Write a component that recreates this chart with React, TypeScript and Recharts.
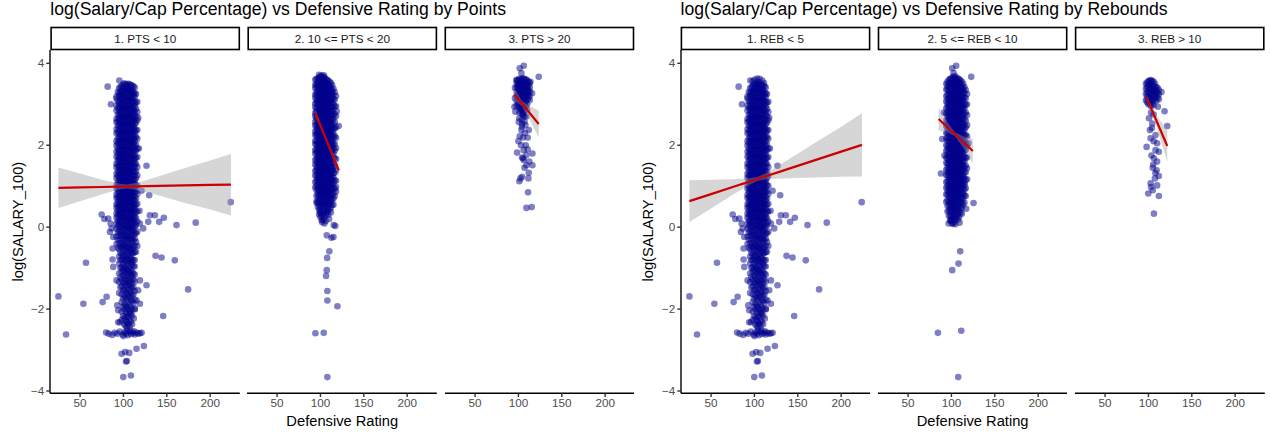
import React from 'react';
import { ComposedChart, Scatter, Line, Area, XAxis, YAxis } from 'recharts';

type Pt = { x: number; y: number };

// ---------- axis setup ----------
const X_TICKS = [50, 100, 150, 200];
const Y_TICKS = [-4, -2, 0, 2, 4];
const X_DOMAIN: [number, number] = [15.3, 234.2];
const Y_DOMAIN: [number, number] = [-4.056, 4.325];

// ---------- PTS < 10 ----------
const PTS1_COL_X = [92, 95, 98, 101, 104, 107, 110, 113, 116];
const PTS1_COL_Y: number[][] = [
  [3.14, 2.97, 2.85, 2.64, 2.56, 2.39, 2.29, 2.1, 1.99, 1.84, 1.72, 1.55, 1.46, 1.3, 1.2, 1.03, 0.94, 0.79, 0.71, 0.56, 0.47, 0.33, 0.23, 0.08, -0.04, -0.23, -0.41],
  [3.39, 3.26, 3.19, 3.05, 2.96, 2.86, 2.77, 2.67, 2.58, 2.48, 2.39, 2.29, 2.2, 2.09, 2.02, 1.89, 1.83, 1.7, 1.64, 1.51, 1.44, 1.33, 1.24, 1.14, 1.05, 0.94, 0.87, 0.75, 0.68, 0.56, 0.5, 0.37, 0.3, 0.17, 0.07, -0.09, -0.21, -0.38, -0.54, -0.72, -0.89, -1.13, -1.34, -1.61],
  [3.45, 3.32, 3.23, 3.12, 3.02, 2.91, 2.84, 2.71, 2.64, 2.52, 2.45, 2.33, 2.26, 2.13, 2.06, 1.95, 1.87, 1.76, 1.68, 1.57, 1.49, 1.38, 1.3, 1.19, 1.11, 0.99, 0.92, 0.8, 0.73, 0.61, 0.53, 0.42, 0.34, 0.23, 0.14, 0.01, -0.11, -0.23, -0.39, -0.49, -0.66, -0.79, -0.97, -1.09, -1.28, -1.44, -1.64, -1.83, -2.06, -2.27],
  [3.51, 3.4, 3.31, 3.19, 3.11, 2.99, 2.91, 2.79, 2.7, 2.59, 2.51, 2.39, 2.31, 2.2, 2.11, 1.99, 1.92, 1.8, 1.73, 1.61, 1.53, 1.42, 1.34, 1.23, 1.15, 1.04, 0.97, 0.85, 0.78, 0.66, 0.59, 0.47, 0.4, 0.27, 0.2, 0.07, -0.02, -0.16, -0.27, -0.42, -0.52, -0.68, -0.81, -0.96, -1.08, -1.23, -1.37, -1.53, -1.68, -1.87, -2.0, -2.21, -2.37],
  [3.47, 3.36, 3.27, 3.15, 3.06, 2.94, 2.86, 2.74, 2.66, 2.54, 2.46, 2.34, 2.27, 2.15, 2.07, 1.95, 1.87, 1.76, 1.68, 1.56, 1.48, 1.37, 1.29, 1.18, 1.1, 0.99, 0.91, 0.8, 0.72, 0.61, 0.54, 0.42, 0.35, 0.22, 0.14, 0.02, -0.08, -0.22, -0.33, -0.48, -0.59, -0.75, -0.87, -1.03, -1.15, -1.31, -1.44, -1.61, -1.76, -1.95, -2.11, -2.32, -2.46],
  [3.49, 3.38, 3.3, 3.17, 3.09, 2.97, 2.89, 2.77, 2.69, 2.57, 2.49, 2.37, 2.29, 2.17, 2.09, 1.98, 1.9, 1.78, 1.7, 1.59, 1.51, 1.39, 1.32, 1.2, 1.13, 1.01, 0.94, 0.82, 0.75, 0.63, 0.56, 0.44, 0.37, 0.25, 0.17, 0.05, -0.04, -0.18, -0.29, -0.45, -0.56, -0.71, -0.84, -1.0, -1.12, -1.28, -1.41, -1.57, -1.71, -1.9, -2.06, -2.27, -2.42],
  [3.46, 3.34, 3.25, 3.13, 3.04, 2.92, 2.84, 2.71, 2.63, 2.51, 2.43, 2.31, 2.23, 2.11, 2.04, 1.92, 1.84, 1.72, 1.65, 1.53, 1.45, 1.34, 1.26, 1.15, 1.07, 0.96, 0.88, 0.77, 0.69, 0.58, 0.5, 0.39, 0.31, 0.19, 0.11, -0.02, -0.12, -0.27, -0.38, -0.53, -0.65, -0.81, -0.92, -1.09, -1.21, -1.37, -1.5, -1.67, -1.81, -2.01, -2.16, -2.37],
  [3.41, 3.27, 3.18, 3.05, 2.95, 2.83, 2.74, 2.62, 2.52, 2.4, 2.31, 2.19, 2.1, 1.98, 1.89, 1.77, 1.68, 1.56, 1.48, 1.35, 1.27, 1.15, 1.07, 0.94, 0.86, 0.74, 0.65, 0.53, 0.45, 0.32, 0.23, 0.1, 0.01, -0.15, -0.28, -0.46, -0.61, -0.8, -0.96, -1.16, -1.33, -1.56, -1.77, -2.01],
  [3.06, 2.81, 2.61, 2.37, 2.16, 1.92, 1.71, 1.47, 1.26, 1.01, 0.81, 0.57, 0.38, 0.14, -0.11, -0.46],
];
const PTS1_COL2_X = [93.5, 96.5, 99.5, 102.5, 105.5, 108.5, 111.5, 114.5];
const PTS1_COL2_Y: number[][] = [
  [3.3, 3.08, 2.91, 2.74, 2.6, 2.47, 2.33, 2.17, 2.05, 1.91, 1.77, 1.64, 1.51, 1.37, 1.25, 1.1, 0.98, 0.86, 0.74, 0.62, 0.51, 0.4, 0.28, 0.15, 0.02, -0.13, -0.31, -0.5],
  [3.42, 3.31, 3.22, 3.1, 3.0, 2.9, 2.81, 2.71, 2.62, 2.53, 2.43, 2.34, 2.24, 2.15, 2.06, 1.96, 1.86, 1.77, 1.67, 1.58, 1.48, 1.39, 1.29, 1.2, 1.1, 1.0, 0.9, 0.81, 0.71, 0.62, 0.52, 0.43, 0.33, 0.24, 0.12, 0.0, -0.15, -0.3, -0.47, -0.63, -0.8, -1.0, -1.22, -1.47],
  [3.48, 3.37, 3.27, 3.16, 3.07, 2.96, 2.87, 2.76, 2.67, 2.56, 2.48, 2.37, 2.28, 2.17, 2.08, 1.98, 1.89, 1.78, 1.7, 1.59, 1.5, 1.4, 1.31, 1.21, 1.12, 1.02, 0.93, 0.83, 0.74, 0.64, 0.55, 0.45, 0.36, 0.25, 0.16, 0.04, -0.07, -0.2, -0.33, -0.46, -0.6, -0.74, -0.89, -1.03, -1.18, -1.35, -1.53, -1.74, -1.95, -2.17],
  [3.49, 3.38, 3.29, 3.18, 3.08, 2.97, 2.88, 2.77, 2.68, 2.57, 2.48, 2.37, 2.29, 2.18, 2.09, 1.98, 1.9, 1.79, 1.7, 1.6, 1.51, 1.41, 1.32, 1.22, 1.13, 1.03, 0.94, 0.84, 0.75, 0.65, 0.56, 0.46, 0.37, 0.26, 0.17, 0.05, -0.05, -0.19, -0.31, -0.45, -0.57, -0.71, -0.84, -0.99, -1.12, -1.27, -1.41, -1.57, -1.72, -1.91, -2.06, -2.27, -2.41],
  [3.5, 3.4, 3.31, 3.2, 3.11, 3.0, 2.91, 2.8, 2.71, 2.6, 2.51, 2.4, 2.31, 2.21, 2.12, 2.01, 1.92, 1.82, 1.73, 1.62, 1.54, 1.43, 1.35, 1.24, 1.16, 1.05, 0.97, 0.86, 0.78, 0.67, 0.59, 0.48, 0.39, 0.28, 0.19, 0.08, -0.02, -0.14, -0.26, -0.4, -0.52, -0.66, -0.79, -0.94, -1.07, -1.22, -1.36, -1.51, -1.66, -1.83, -2.0, -2.19, -2.36],
  [3.47, 3.36, 3.27, 3.15, 3.06, 2.95, 2.86, 2.74, 2.66, 2.54, 2.46, 2.34, 2.26, 2.14, 2.06, 1.95, 1.87, 1.75, 1.68, 1.56, 1.48, 1.37, 1.29, 1.18, 1.1, 0.99, 0.91, 0.8, 0.72, 0.61, 0.53, 0.42, 0.34, 0.22, 0.14, 0.02, -0.08, -0.22, -0.34, -0.49, -0.61, -0.76, -0.88, -1.04, -1.17, -1.32, -1.46, -1.62, -1.77, -1.96, -2.12, -2.31],
  [3.44, 3.3, 3.21, 3.09, 2.99, 2.87, 2.78, 2.66, 2.57, 2.45, 2.37, 2.25, 2.16, 2.05, 1.96, 1.84, 1.76, 1.64, 1.56, 1.44, 1.36, 1.25, 1.17, 1.05, 0.97, 0.86, 0.77, 0.66, 0.57, 0.45, 0.37, 0.25, 0.16, 0.04, -0.07, -0.2, -0.33, -0.49, -0.63, -0.8, -0.95, -1.13, -1.28, -1.47, -1.64, -1.86],
  [3.25, 3.04, 2.89, 2.7, 2.55, 2.36, 2.21, 2.02, 1.87, 1.69, 1.54, 1.36, 1.2, 1.02, 0.87, 0.7, 0.55, 0.38, 0.22, 0.05, -0.15, -0.36, -0.6],
];
const PTS1_OTHER: number[][] = [
  [81.8, 3.43], [95.2, 3.58], [85.6, 3.0], [92, 3.19], [126.6, 1.5], [117.8, 1.92], [117, 2.67], [129.7, 0.78],
  [120.9, 0.89], [223.7, 0.61], [74.9, 0.31], [78, 0.2], [130.5, 0.29], [136.2, 0.29], [141.2, 0.13], [146.6, 0.23],
  [128.6, 0.13], [161.2, 0.05], [183.4, 0.11], [122.8, -0.03], [84.4, -0.12], [88.3, -0.24], [87.5, -0.52], [87.5, -0.79],
  [56.8, -0.87], [137, -0.7], [143.9, -0.74], [159.2, -0.81], [126.6, -1.42], [174.6, -1.52], [25, -1.69], [53.8, -1.87],
  [76, -1.83], [80.6, -1.7], [145.8, -2.17], [33.8, -2.62], [94, -2.32], [123.6, -2.9], [115.1, -2.97], [106.7, -3.07],
  [97.9, -3.09], [102, -3.05], [102.9, -3.28], [104, -3.27], [99.8, -3.66], [108.6, -3.62], [88.3, -0.97], [92.1, -1.3],
  [119, -1.3], [117, -1.54], [115.1, -1.79], [92.9, -1.91], [94, -2.03], [119, -1.87], [113.2, -1.99], [96, -2.32],
  [103.6, -2.19], [107.5, -2.11], [112, -2.23], [82.5, 0.21], [85.2, 0.09], [86.4, -0.03], [119, 0.09], [118.5, 0.4],
  [80, -2.57], [83, -2.6], [87, -2.63], [90, -2.58], [93, -2.6], [96, -2.55], [99, -2.62], [101, -2.57], [103, -2.6],
  [105, -2.64], [107, -2.56], [109, -2.61], [111, -2.58], [113, -2.62], [115, -2.57], [117, -2.6], [119, -2.59], [121, -2.58],
  [104, -2.53], [108, -2.52], [112, -2.54], [100, -2.66],
];
const PTS1_FIT_X = [25, 50, 75, 95, 104, 115, 140, 170, 200, 224];
const PTS1_FIT = [0.96, 0.97, 0.98, 0.988, 0.992, 0.996, 1.006, 1.018, 1.03, 1.04];
const PTS1_LO = [0.465, 0.63, 0.8, 0.918, 0.942, 0.916, 0.776, 0.598, 0.43, 0.285];
const PTS1_HI = [1.455, 1.31, 1.16, 1.058, 1.042, 1.076, 1.236, 1.438, 1.63, 1.795];

// ---------- 10 <= PTS < 20 ----------
const PTS2_COL_X = [94, 97, 100, 103, 106, 109, 112, 115, 118];
const PTS2_COL_Y: number[][] = [
  [3.6, 3.47, 3.39, 3.24, 3.16, 3.02, 2.93, 2.79, 2.71, 2.57, 2.48, 2.34, 2.25, 2.11, 2.03, 1.88, 1.79, 1.64, 1.53, 1.37, 1.26, 1.1, 0.97],
  [3.63, 3.54, 3.46, 3.36, 3.28, 3.19, 3.08, 3.01, 2.9, 2.83, 2.72, 2.65, 2.56, 2.46, 2.38, 2.28, 2.2, 2.1, 2.02, 1.92, 1.84, 1.74, 1.66, 1.56, 1.48, 1.38, 1.3, 1.2, 1.12, 1.02, 0.93, 0.82, 0.72, 0.6, 0.49],
  [3.68, 3.57, 3.5, 3.4, 3.32, 3.22, 3.14, 3.04, 2.96, 2.86, 2.78, 2.68, 2.6, 2.5, 2.42, 2.32, 2.24, 2.14, 2.06, 1.96, 1.88, 1.78, 1.7, 1.6, 1.52, 1.42, 1.34, 1.24, 1.16, 1.06, 0.98, 0.88, 0.8, 0.68, 0.58, 0.46, 0.36, 0.24],
  [3.65, 3.55, 3.47, 3.37, 3.29, 3.19, 3.11, 3.01, 2.93, 2.83, 2.75, 2.65, 2.57, 2.47, 2.39, 2.29, 2.21, 2.11, 2.03, 1.93, 1.85, 1.75, 1.67, 1.57, 1.49, 1.39, 1.31, 1.21, 1.13, 1.03, 0.95, 0.84, 0.76, 0.64, 0.55, 0.43, 0.32, 0.19],
  [3.62, 3.52, 3.45, 3.34, 3.27, 3.16, 3.09, 2.98, 2.91, 2.8, 2.73, 2.62, 2.54, 2.43, 2.36, 2.25, 2.18, 2.07, 2.0, 1.89, 1.82, 1.71, 1.64, 1.53, 1.46, 1.35, 1.28, 1.17, 1.1, 0.99, 0.92, 0.81, 0.73, 0.61, 0.52, 0.39, 0.29],
  [3.58, 3.47, 3.39, 3.29, 3.2, 3.11, 3.03, 2.92, 2.85, 2.74, 2.66, 2.56, 2.47, 2.38, 2.29, 2.2, 2.1, 2.02, 1.92, 1.84, 1.74, 1.65, 1.56, 1.47, 1.38, 1.29, 1.19, 1.11, 1.01, 0.93, 0.83, 0.74, 0.63, 0.52, 0.41, 0.3],
  [3.52, 3.41, 3.32, 3.22, 3.12, 3.03, 2.93, 2.83, 2.74, 2.64, 2.55, 2.45, 2.35, 2.26, 2.16, 2.06, 1.97, 1.87, 1.78, 1.68, 1.58, 1.49, 1.39, 1.3, 1.2, 1.1, 1.01, 0.91, 0.81, 0.7, 0.6, 0.48, 0.36],
  [3.38, 3.24, 3.13, 3.0, 2.89, 2.76, 2.65, 2.52, 2.41, 2.28, 2.17, 2.04, 1.93, 1.8, 1.69, 1.56, 1.45, 1.32, 1.21, 1.08, 0.96, 0.83, 0.7, 0.55],
  [3.2, 2.95, 2.71, 2.44, 2.18, 1.93, 1.66, 1.39, 1.13, 0.87],
];
const PTS2_COL2_X = [95.5, 98.5, 101.5, 104.5, 107.5, 110.5, 113.5, 116.5];
const PTS2_COL2_Y: number[][] = [
  [3.62, 3.5, 3.43, 3.3, 3.21, 3.1, 3.03, 2.9, 2.81, 2.7, 2.63, 2.5, 2.41, 2.3, 2.23, 2.1, 2.01, 1.9, 1.82, 1.69, 1.59, 1.47, 1.39, 1.25, 1.14, 1.02, 0.91, 0.77, 0.63],
  [3.66, 3.58, 3.49, 3.41, 3.33, 3.24, 3.13, 3.06, 2.98, 2.88, 2.78, 2.7, 2.62, 2.52, 2.42, 2.34, 2.26, 2.16, 2.06, 1.98, 1.9, 1.8, 1.7, 1.62, 1.54, 1.44, 1.34, 1.26, 1.18, 1.08, 0.97, 0.88, 0.78, 0.66, 0.53, 0.42, 0.31],
  [3.7, 3.61, 3.53, 3.46, 3.36, 3.26, 3.18, 3.1, 3.0, 2.9, 2.82, 2.74, 2.64, 2.54, 2.46, 2.38, 2.28, 2.18, 2.1, 2.02, 1.92, 1.82, 1.74, 1.66, 1.56, 1.46, 1.38, 1.3, 1.2, 1.1, 1.02, 0.93, 0.83, 0.72, 0.62, 0.52, 0.4, 0.27, 0.17],
  [3.66, 3.57, 3.49, 3.42, 3.32, 3.22, 3.15, 3.07, 2.97, 2.87, 2.79, 2.71, 2.62, 2.52, 2.44, 2.36, 2.26, 2.16, 2.08, 2.0, 1.9, 1.8, 1.72, 1.64, 1.54, 1.44, 1.36, 1.28, 1.18, 1.08, 1.0, 0.91, 0.8, 0.69, 0.6, 0.5, 0.37, 0.24],
  [3.6, 3.5, 3.42, 3.34, 3.24, 3.14, 3.06, 2.98, 2.88, 2.78, 2.7, 2.62, 2.52, 2.42, 2.34, 2.26, 2.16, 2.06, 1.98, 1.9, 1.8, 1.7, 1.62, 1.54, 1.44, 1.34, 1.26, 1.18, 1.08, 0.97, 0.88, 0.79, 0.68, 0.56, 0.46, 0.35],
  [3.55, 3.44, 3.36, 3.27, 3.17, 3.06, 2.98, 2.89, 2.79, 2.68, 2.6, 2.51, 2.41, 2.3, 2.22, 2.13, 2.03, 1.92, 1.84, 1.75, 1.65, 1.54, 1.46, 1.37, 1.27, 1.16, 1.07, 0.98, 0.87, 0.76, 0.66, 0.56, 0.43],
  [3.47, 3.34, 3.26, 3.15, 3.05, 2.92, 2.84, 2.73, 2.63, 2.5, 2.42, 2.31, 2.21, 2.08, 2.0, 1.89, 1.79, 1.66, 1.58, 1.47, 1.37, 1.24, 1.15, 1.04, 0.93, 0.79, 0.68, 0.54],
  [3.3, 3.11, 2.95, 2.76, 2.57, 2.41, 2.22, 2.03, 1.87, 1.68, 1.49, 1.33, 1.14, 0.94, 0.76],
];
const PTS2_OTHER: number[][] = [
  [95.8, 0.59], [100, 0.35], [104.6, 0.09], [115.3, 0.05], [117.2, 0.03], [107.3, -0.2], [115, -0.24], [112.7, -0.26],
  [110.3, -0.59], [107.7, -0.75], [107.3, -1.05], [106.5, -1.19], [108, -1.56], [108, -1.79], [119.6, -1.93], [94.2, -2.59],
  [103.8, -2.58], [108, -3.66], [118.8, 2.83], [121.1, 2.47], [118, 0.98], [106, 0.15], [110, 0.2], [102, 0.12], [98.5, 3.72], [104, 3.71],
];
const PTS2_FIT_X = [94.2, 103, 112, 121.1];
const PTS2_FIT = [2.78, 2.325, 1.86, 1.39];
const PTS2_LO = [2.68, 2.29, 1.79, 1.23];
const PTS2_HI = [2.88, 2.36, 1.93, 1.55];

// ---------- PTS > 20 ----------
const PTS3_COL_X = [96, 98, 101, 104, 107, 110, 113, 99.5, 102.5, 105.5, 108.5, 111.5];
const PTS3_COL_Y: number[][] = [
  [3.4, 3.15],
  [3.6, 3.5, 3.41, 3.3, 3.2, 3.08, 2.96],
  [3.62, 3.53, 3.44, 3.35, 3.25, 3.16, 3.05, 2.93, 2.8, 2.66],
  [3.63, 3.54, 3.46, 3.37, 3.28, 3.19, 3.1, 3.0, 2.88, 2.76, 2.62, 2.45],
  [3.62, 3.52, 3.44, 3.35, 3.26, 3.17, 3.07, 2.97, 2.85, 2.71, 2.58],
  [3.59, 3.49, 3.4, 3.31, 3.22, 3.12, 3.0, 2.86],
  [3.52, 3.41, 3.31, 3.2],
  [3.58, 3.47, 3.36, 3.25, 3.13, 3.0],
  [3.6, 3.5, 3.4, 3.3, 3.2, 3.1, 2.98, 2.85],
  [3.63, 3.53, 3.43, 3.33, 3.23, 3.13, 3.02, 2.9, 2.78],
  [3.6, 3.5, 3.4, 3.3, 3.2, 3.08, 2.95],
  [3.55, 3.45, 3.35, 3.25, 3.15],
];
const PTS3_OTHER: number[][] = [
  [106.1, 3.94], [101.5, 3.88], [103.4, 3.76], [123.4, 3.67], [97.7, 3.58], [99.6, 3.45], [113.8, 3.55], [115.7, 3.27],
  [113, 3.1], [95.4, 2.94], [96.5, 2.82], [102.3, 2.9], [105.3, 2.74], [109.2, 2.7], [100.4, 2.57], [104.2, 2.52],
  [108, 2.49], [103.4, 2.37], [101.5, 2.22], [105.3, 2.19], [110.6, 2.19], [111.9, 2.37], [103, 2.0], [108.4, 2.0],
  [110.6, 1.9], [106.1, 1.88], [98.5, 1.82], [109.2, 1.76], [104.2, 1.7], [116.1, 1.8], [106.1, 1.64], [109.2, 1.51],
  [116.1, 1.51], [105.3, 1.68], [111.9, 1.33], [104.2, 1.23], [102.3, 1.19], [101.1, 1.12], [111.5, 1.19], [111.1, 0.85],
  [109.2, 0.47], [115.3, 0.49], [107, 1.45], [112.5, 1.6], [100, 2.1], [107.5, 2.3],
];
const PTS3_FIT_X = [95.4, 104, 112, 123.4];
const PTS3_FIT = [3.24, 3.019, 2.813, 2.52];
const PTS3_LO = [3.1, 2.949, 2.663, 2.19];
const PTS3_HI = [3.38, 3.089, 2.963, 2.85];

// ---------- REB < 5 ----------
const REB1_EXTRA: number[][] = [
  [100, 3.6], [103, 3.63], [106, 3.62], [109, 3.58], [104, 3.55], [98, 3.56], [111, 3.52],
];
const REB1_FIT_X = [25, 50, 75, 95, 104, 115, 140, 170, 200, 224];
const REB1_FIT = [0.635, 0.807, 0.98, 1.118, 1.18, 1.256, 1.429, 1.636, 1.843, 2.008];
const REB1_LO = [0.125, 0.457, 0.79, 1.043, 1.13, 1.176, 1.194, 1.211, 1.233, 1.238];
const REB1_HI = [1.145, 1.157, 1.17, 1.193, 1.23, 1.336, 1.664, 2.061, 2.453, 2.778];

// ---------- 5 <= REB < 10 ----------
const REB2_COL_X = [94, 97, 100, 103, 106, 109, 112, 115, 118];
const REB2_COL_Y: number[][] = [
  [3.5, 3.36, 3.2, 3.07, 2.9, 2.77, 2.6, 2.47, 2.3, 2.16, 2.0, 1.86, 1.7, 1.57, 1.4, 1.27, 1.1, 0.96, 0.8, 0.62],
  [3.6, 3.51, 3.42, 3.32, 3.24, 3.13, 3.05, 2.94, 2.86, 2.75, 2.67, 2.56, 2.48, 2.37, 2.29, 2.18, 2.1, 1.99, 1.91, 1.8, 1.72, 1.61, 1.53, 1.42, 1.34, 1.23, 1.15, 1.04, 0.96, 0.85, 0.76, 0.64, 0.54, 0.41, 0.28],
  [3.63, 3.55, 3.45, 3.37, 3.27, 3.19, 3.08, 3.0, 2.9, 2.82, 2.71, 2.63, 2.53, 2.45, 2.34, 2.26, 2.16, 2.08, 1.97, 1.89, 1.79, 1.71, 1.6, 1.52, 1.42, 1.34, 1.23, 1.15, 1.05, 0.97, 0.86, 0.78, 0.67, 0.58, 0.47, 0.37, 0.26, 0.16],
  [3.65, 3.57, 3.47, 3.39, 3.29, 3.21, 3.11, 3.03, 2.93, 2.85, 2.75, 2.67, 2.57, 2.49, 2.39, 2.31, 2.21, 2.13, 2.03, 1.95, 1.85, 1.77, 1.67, 1.59, 1.49, 1.41, 1.31, 1.23, 1.13, 1.05, 0.95, 0.87, 0.76, 0.67, 0.56, 0.46, 0.34, 0.23, 0.12],
  [3.64, 3.55, 3.46, 3.36, 3.28, 3.18, 3.1, 3.0, 2.92, 2.81, 2.73, 2.63, 2.55, 2.44, 2.36, 2.26, 2.18, 2.07, 1.99, 1.89, 1.81, 1.7, 1.62, 1.52, 1.44, 1.33, 1.25, 1.15, 1.07, 0.96, 0.88, 0.77, 0.68, 0.57, 0.47, 0.36, 0.24],
  [3.61, 3.51, 3.42, 3.33, 3.23, 3.14, 3.05, 2.95, 2.86, 2.77, 2.67, 2.58, 2.49, 2.39, 2.3, 2.21, 2.11, 2.02, 1.93, 1.83, 1.74, 1.65, 1.55, 1.46, 1.37, 1.27, 1.18, 1.09, 0.99, 0.9, 0.8, 0.7, 0.59, 0.48, 0.37, 0.25],
  [3.55, 3.44, 3.35, 3.24, 3.15, 3.04, 2.95, 2.84, 2.75, 2.64, 2.55, 2.44, 2.35, 2.24, 2.15, 2.04, 1.95, 1.84, 1.75, 1.64, 1.55, 1.44, 1.35, 1.24, 1.15, 1.04, 0.94, 0.83, 0.72, 0.6, 0.47, 0.33],
  [3.42, 3.28, 3.16, 3.02, 2.9, 2.76, 2.64, 2.5, 2.38, 2.24, 2.12, 1.98, 1.86, 1.72, 1.6, 1.46, 1.34, 1.2, 1.07, 0.92, 0.78, 0.6],
  [3.25, 3.0, 2.74, 2.49, 2.22, 1.97, 1.7, 1.44, 1.17],
];
const REB2_COL2_X = [95.5, 98.5, 101.5, 104.5, 107.5, 110.5, 113.5, 116.5];
const REB2_COL2_Y: number[][] = [
  [3.55, 3.44, 3.36, 3.23, 3.13, 3.02, 2.94, 2.81, 2.71, 2.6, 2.52, 2.39, 2.29, 2.18, 2.1, 1.97, 1.87, 1.76, 1.68, 1.55, 1.45, 1.34, 1.26, 1.12, 1.01, 0.9, 0.8, 0.66, 0.52, 0.38],
  [3.62, 3.52, 3.44, 3.36, 3.26, 3.16, 3.08, 3.0, 2.9, 2.8, 2.72, 2.64, 2.54, 2.44, 2.36, 2.28, 2.18, 2.08, 2.0, 1.92, 1.82, 1.72, 1.64, 1.56, 1.46, 1.36, 1.28, 1.2, 1.1, 1.0, 0.91, 0.82, 0.71, 0.6, 0.5, 0.4, 0.27, 0.15],
  [3.67, 3.58, 3.5, 3.43, 3.33, 3.23, 3.15, 3.07, 2.97, 2.87, 2.79, 2.71, 2.61, 2.51, 2.43, 2.35, 2.25, 2.15, 2.07, 1.99, 1.89, 1.79, 1.71, 1.63, 1.53, 1.43, 1.35, 1.27, 1.17, 1.07, 0.99, 0.91, 0.81, 0.7, 0.61, 0.52, 0.41, 0.29, 0.19, 0.08],
  [3.68, 3.59, 3.51, 3.44, 3.34, 3.24, 3.16, 3.08, 2.98, 2.88, 2.8, 2.72, 2.62, 2.52, 2.44, 2.36, 2.26, 2.16, 2.08, 2.0, 1.9, 1.8, 1.72, 1.64, 1.54, 1.44, 1.36, 1.28, 1.18, 1.08, 1.0, 0.92, 0.82, 0.71, 0.62, 0.53, 0.41, 0.29, 0.18],
  [3.63, 3.53, 3.45, 3.37, 3.27, 3.17, 3.09, 3.01, 2.91, 2.81, 2.73, 2.65, 2.55, 2.45, 2.37, 2.29, 2.19, 2.09, 2.01, 1.93, 1.83, 1.73, 1.65, 1.57, 1.47, 1.37, 1.29, 1.21, 1.11, 1.01, 0.93, 0.84, 0.73, 0.62, 0.52, 0.42, 0.3, 0.19],
  [3.58, 3.47, 3.39, 3.3, 3.2, 3.09, 3.01, 2.92, 2.82, 2.71, 2.63, 2.54, 2.44, 2.33, 2.25, 2.16, 2.06, 1.95, 1.87, 1.78, 1.68, 1.57, 1.49, 1.4, 1.3, 1.19, 1.11, 1.02, 0.91, 0.8, 0.7, 0.6, 0.47, 0.35],
  [3.5, 3.37, 3.29, 3.18, 3.08, 2.95, 2.87, 2.76, 2.66, 2.53, 2.45, 2.34, 2.24, 2.11, 2.03, 1.92, 1.82, 1.69, 1.61, 1.5, 1.4, 1.27, 1.18, 1.07, 0.95, 0.82, 0.7, 0.55],
  [3.35, 3.15, 2.99, 2.8, 2.6, 2.44, 2.25, 2.05, 1.89, 1.7, 1.5, 1.34, 1.15, 0.95, 0.76],
];
const REB2_OTHER: number[][] = [
  [105.5, 3.94], [100.9, 3.88], [102.5, 3.76], [122.8, 3.67], [89.4, 2.15], [87.9, 1.31], [125.5, 0.59], [115.1, 1.03],
  [110.1, -0.59], [108.2, -0.89], [100.9, -1.05], [84.4, -2.58], [111.3, -2.53], [107.8, -3.66], [96.7, 0.09], [104.4, 0.07],
  [109.4, 0.11], [101, 0.1], [99, 0.17], [91.5, 2.8], [92, 1.75], [119.5, 2.05], [117, 0.45],
];
const REB2_FIT_X = [85.2, 95, 104, 114, 124.7];
const REB2_FIT = [2.64, 2.446, 2.269, 2.071, 1.86];
const REB2_LO = [2.36, 2.316, 2.219, 1.931, 1.56];
const REB2_HI = [2.92, 2.576, 2.319, 2.211, 2.16];

// ---------- REB > 10 ----------
const REB3_COL_X = [97, 100, 103, 106, 109, 112, 115, 98.5, 101.5, 104.5, 107.5, 110.5];
const REB3_COL_Y: number[][] = [
  [3.5, 3.38, 3.25, 3.1],
  [3.57, 3.47, 3.36, 3.24, 3.12, 3.0],
  [3.59, 3.5, 3.4, 3.3, 3.19, 3.07, 2.95],
  [3.55, 3.44, 3.33, 3.22, 3.1, 2.98],
  [3.42, 3.31, 3.2, 3.08],
  [3.35, 3.24, 3.12],
  [3.3],
  [3.53, 3.42, 3.3, 3.18, 3.05],
  [3.58, 3.48, 3.38, 3.27, 3.15, 3.02],
  [3.57, 3.46, 3.35, 3.24, 3.13, 3.01],
  [3.5, 3.39, 3.27, 3.15],
  [3.4, 3.28, 3.16],
];
const REB3_OTHER: number[][] = [
  [118.6, 2.83], [121.7, 2.47], [110.9, 2.94], [100.6, 2.66], [104.4, 2.53], [101.7, 2.37], [108.2, 2.25], [102.5, 2.17],
  [97.9, 1.96], [108.2, 1.88], [112, 1.84], [106.3, 1.68], [105.5, 1.53], [109.4, 1.39], [112, 1.25], [107.5, 1.19],
  [102.5, 1.07], [99.8, 0.82], [112, 0.76], [106.3, 0.33], [103, 2.8], [106, 2.75], [104, 2.42], [106, 2.1], [110, 2.05],
  [103.5, 1.75], [110, 1.6], [105, 1.45], [108, 1.32], [103, 0.98], [110, 1.02], [105, 0.9],
];
const REB3_FIT_X = [97.9, 104, 110, 121.7];
const REB3_FIT = [3.16, 2.857, 2.56, 1.98];
const REB3_LO = [3.08, 2.787, 2.41, 1.59];
const REB3_HI = [3.24, 2.927, 2.71, 2.37];

// ---------- labels ----------
const TITLES = [
  'log(Salary/Cap Percentage) vs Defensive Rating by Points',
  'log(Salary/Cap Percentage) vs Defensive Rating by Rebounds',
];
const STRIPS = [
  ['1. PTS < 10', '2. 10 <= PTS < 20', '3. PTS > 20'],
  ['1. REB < 5', '2. 5 <= REB < 10', '3. REB > 10'],
];
const Y_TITLE = 'log(SALARY_100)';
const X_TITLE = 'Defensive Rating';

// ---------- helpers ----------
const fromCols = (xs: number[], cols: number[][]): Pt[] =>
  xs.flatMap((x, i) => cols[i].map((y) => ({ x, y })));
const fromPairs = (p: number[][]): Pt[] => p.map(([x, y]) => ({ x, y }));
const fitRows = (xs: number[], fit: number[], lo: number[], hi: number[]) =>
  xs.map((x, i) => ({ x, fit: fit[i], band: [lo[i], hi[i]] }));

const PTS1_POINTS = [...fromCols(PTS1_COL_X, PTS1_COL_Y), ...fromCols(PTS1_COL2_X, PTS1_COL2_Y), ...fromPairs(PTS1_OTHER)];

const PANEL_DATA = [
  [
    { pts: PTS1_POINTS, fit: fitRows(PTS1_FIT_X, PTS1_FIT, PTS1_LO, PTS1_HI) },
    { pts: [...fromCols(PTS2_COL_X, PTS2_COL_Y), ...fromCols(PTS2_COL2_X, PTS2_COL2_Y), ...fromPairs(PTS2_OTHER)], fit: fitRows(PTS2_FIT_X, PTS2_FIT, PTS2_LO, PTS2_HI) },
    { pts: [...fromCols(PTS3_COL_X, PTS3_COL_Y), ...fromPairs(PTS3_OTHER)], fit: fitRows(PTS3_FIT_X, PTS3_FIT, PTS3_LO, PTS3_HI) },
  ],
  [
    { pts: [...PTS1_POINTS, ...fromPairs(REB1_EXTRA)], fit: fitRows(REB1_FIT_X, REB1_FIT, REB1_LO, REB1_HI) },
    { pts: [...fromCols(REB2_COL_X, REB2_COL_Y), ...fromCols(REB2_COL2_X, REB2_COL2_Y), ...fromPairs(REB2_OTHER)], fit: fitRows(REB2_FIT_X, REB2_FIT, REB2_LO, REB2_HI) },
    { pts: [...fromCols(REB3_COL_X, REB3_COL_Y), ...fromPairs(REB3_OTHER)], fit: fitRows(REB3_FIT_X, REB3_FIT, REB3_LO, REB3_HI) },
  ],
];

// ---------- layout ----------
const FONT = '"Liberation Sans", Arial, Helvetica, sans-serif';
const PANEL_LEFT = [
  [50.3, 247.4, 444.5],
  [680.6, 877.7, 1074.8],
];
const PANEL_W = 189.8;
const PANEL_TOP = 50;
const PANEL_H = 343.3;
const AXIS_H = 41.7;
const YAXIS_W = 50;

const fmt = (v: number) => (v < 0 ? '\u2212' + Math.abs(v) : String(v));

const Dot = (props: any) => {
  if (props.cx == null || props.cy == null) return null;
  return <circle cx={props.cx} cy={props.cy} r={3.3} fill="#00008B" fillOpacity={0.5} />;
};

function Panel({ left, showY, pts, fit }: { left: number; showY: boolean; pts: Pt[]; fit: any[] }) {
  const yW = showY ? YAXIS_W : 0;
  const tickStyle = { fill: '#4D4D4D', fontSize: 11.7, fontFamily: FONT };
  return (
    <div style={{ position: 'absolute', left: left - yW, top: PANEL_TOP }}>
      <ComposedChart width={PANEL_W + yW} height={PANEL_H + AXIS_H} margin={{ top: 0, right: 0, bottom: 0, left: 0 }}>
        <XAxis
          type="number"
          dataKey="x"
          domain={X_DOMAIN}
          ticks={X_TICKS}
          interval={0}
          allowDataOverflow
          height={AXIS_H}
          tickSize={3.7}
          tickMargin={2}
          axisLine={{ stroke: '#000000', strokeWidth: 1.4 }}
          tickLine={{ stroke: '#333333', strokeWidth: 1.4 }}
          tick={tickStyle}
        />
        <YAxis
          type="number"
          dataKey="y"
          domain={Y_DOMAIN}
          ticks={Y_TICKS}
          interval={0}
          allowDataOverflow
          hide={!showY}
          width={yW}
          tickSize={3.7}
          tickMargin={2}
          tickFormatter={fmt}
          axisLine={{ stroke: '#000000', strokeWidth: 1.4 }}
          tickLine={{ stroke: '#333333', strokeWidth: 1.4 }}
          tick={tickStyle}
        />
        <Scatter data={pts} shape={Dot} isAnimationActive={false} zIndex={50} />
        <Area
          data={fit}
          dataKey="band"
          type="linear"
          stroke="none"
          fill="#999999"
          fillOpacity={0.4}
          isAnimationActive={false}
          dot={false}
          activeDot={false}
          zIndex={100}
        />
        <Line
          data={fit}
          dataKey="fit"
          type="linear"
          stroke="#CC0000"
          strokeWidth={2.2}
          dot={false}
          activeDot={false}
          isAnimationActive={false}
          zIndex={400}
        />
      </ComposedChart>
    </div>
  );
}

export default function App() {
  return (
    <div style={{ position: 'absolute', left: 0, top: 0, width: 1270, height: 435, background: '#fff', overflow: 'hidden' }}>
      <svg width={1270} height={435} style={{ position: 'absolute', left: 0, top: 0 }}>
        {[0, 1].map((g) => (
          <g key={g}>
            <text x={PANEL_LEFT[g][0]} y={15} fontSize={17.6} fontFamily={FONT} fill="#000">
              {TITLES[g]}
            </text>
            {PANEL_LEFT[g].map((l, i) => (
              <g key={i}>
                <rect x={l + 0.8} y={27.5} width={PANEL_W - 1.6} height={22} fill="#fff" stroke="#000" strokeWidth={1.6} />
                <text x={l + PANEL_W / 2} y={42.8} textAnchor="middle" fontSize={11.7} fontFamily={FONT} fill="#1A1A1A">
                  {STRIPS[g][i]}
                </text>
              </g>
            ))}
            <text
              transform={`translate(${PANEL_LEFT[g][0] - 27.3},${PANEL_TOP + PANEL_H / 2}) rotate(-90)`}
              textAnchor="middle"
              fontSize={14.7}
              fontFamily={FONT}
              fill="#000"
            >
              {Y_TITLE}
            </text>
            <text x={PANEL_LEFT[g][1] + PANEL_W / 2} y={426} textAnchor="middle" fontSize={14.7} fontFamily={FONT} fill="#000">
              {X_TITLE}
            </text>
          </g>
        ))}
      </svg>
      {[0, 1].map((g) =>
        PANEL_LEFT[g].map((l, i) => (
          <Panel key={`${g}-${i}`} left={l} showY={i === 0} pts={PANEL_DATA[g][i].pts} fit={PANEL_DATA[g][i].fit} />
        ))
      )}
    </div>
  );
}
